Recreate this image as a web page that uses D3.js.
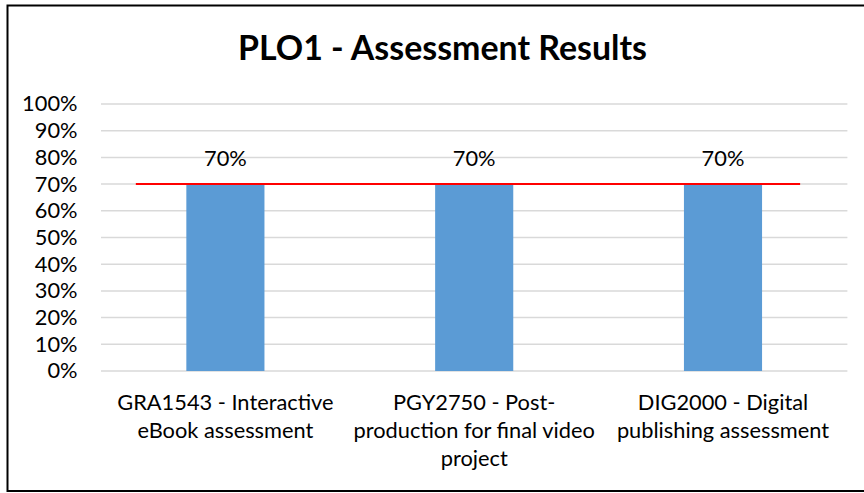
<!DOCTYPE html>
<html>
<head>
<meta charset="utf-8">
<script src="https://cdn.jsdelivr.net/npm/d3@7"></script>
<style>
  html, body { margin: 0; padding: 0; background: #fff; }
  svg { display: block; }
  text { font-family: Lato, "Open Sans", sans-serif; }
</style>
</head>
<body>
<svg id="chart" width="864" height="493"></svg>
<script>
// ---- data ----
const categories = ["GRA1543", "PGY2750", "DIG2000"];
const categoryLabels = [
  ["GRA1543 - Interactive", "eBook assessment"],
  ["PGY2750 - Post-", "production for final video", "project"],
  ["DIG2000 - Digital", "publishing assessment"]
];
const values = [0.70, 0.70, 0.70];
const targetValue = 0.70;
const targetSpan = [0.14, 2.81]; // in category-index units
const yTicks = [0, 0.1, 0.2, 0.3, 0.4, 0.5, 0.6, 0.7, 0.8, 0.9, 1.0];
const title = "PLO1 - Assessment Results";

// ---- layout ----
const svg = d3.select("#chart");
const plot = { left: 101, right: 847.4, top: 104, bottom: 371 };
const fontSize = 21.8;

svg.append("rect")
  .attr("x", 7.5).attr("y", 5.5)
  .attr("width", 880).attr("height", 485.5)
  .attr("fill", "#fff").attr("stroke", "#000").attr("stroke-width", 2);

const x = d3.scaleBand().domain(categories)
  .range([plot.left, plot.right]).paddingInner(0.686).paddingOuter(0.343);
const xi = d3.scaleLinear().domain([0, categories.length]).range([plot.left, plot.right]);
const y = d3.scaleLinear().domain([0, 1]).range([plot.bottom, plot.top]);
const fmt = d3.format(".0%");

// gridlines
svg.append("g").selectAll("line").data(yTicks).join("line")
  .attr("x1", plot.left).attr("x2", plot.right)
  .attr("y1", d => y(d)).attr("y2", d => y(d))
  .attr("stroke", "#d9d9d9").attr("stroke-width", 1.5);

// y axis labels
const yAxis = d3.axisLeft(y).tickValues(yTicks).tickFormat(fmt).tickSize(0).tickPadding(0);
const yg = svg.append("g").attr("transform", `translate(${plot.left - 23.5},0)`).call(yAxis);
yg.select(".domain").remove();
yg.selectAll("text").attr("font-size", fontSize).attr("fill", "#000")
  .attr("font-family", "Lato, 'Open Sans', sans-serif");

// bars
svg.append("g").selectAll("rect").data(values).join("rect")
  .attr("x", (d, i) => x(categories[i]))
  .attr("width", x.bandwidth())
  .attr("y", d => y(d))
  .attr("height", d => y(0) - y(d))
  .attr("fill", "#5b9bd5");

// target line
svg.append("line")
  .attr("x1", xi(targetSpan[0])).attr("x2", xi(targetSpan[1]))
  .attr("y1", y(targetValue)).attr("y2", y(targetValue))
  .attr("stroke", "#ff0000").attr("stroke-width", 2);

// data labels
svg.append("g").selectAll("text").data(values).join("text")
  .attr("x", (d, i) => x(categories[i]) + x.bandwidth() / 2)
  .attr("y", d => y(d) - 18)
  .attr("text-anchor", "middle")
  .attr("font-size", fontSize).attr("fill", "#000")
  .text(d => fmt(d));

// category labels
const cg = svg.append("g").selectAll("text").data(categoryLabels).join("text")
  .attr("text-anchor", "middle")
  .attr("font-size", fontSize).attr("fill", "#000")
  .attr("x", (d, i) => x(categories[i]) + x.bandwidth() / 2)
  .attr("y", plot.bottom + 39);
cg.selectAll("tspan").data((d, i) => d.map(t => ({ t, i }))).join("tspan")
  .attr("x", d => x(categories[d.i]) + x.bandwidth() / 2)
  .attr("dy", (d, j) => j === 0 ? 0 : 28)
  .text(d => d.t);

// title
svg.append("text")
  .attr("x", 442.5).attr("y", 60)
  .attr("text-anchor", "middle")
  .attr("font-size", 33.9).attr("font-weight", "bold").attr("fill", "#000")
  .text(title);
</script>
</body>
</html>
